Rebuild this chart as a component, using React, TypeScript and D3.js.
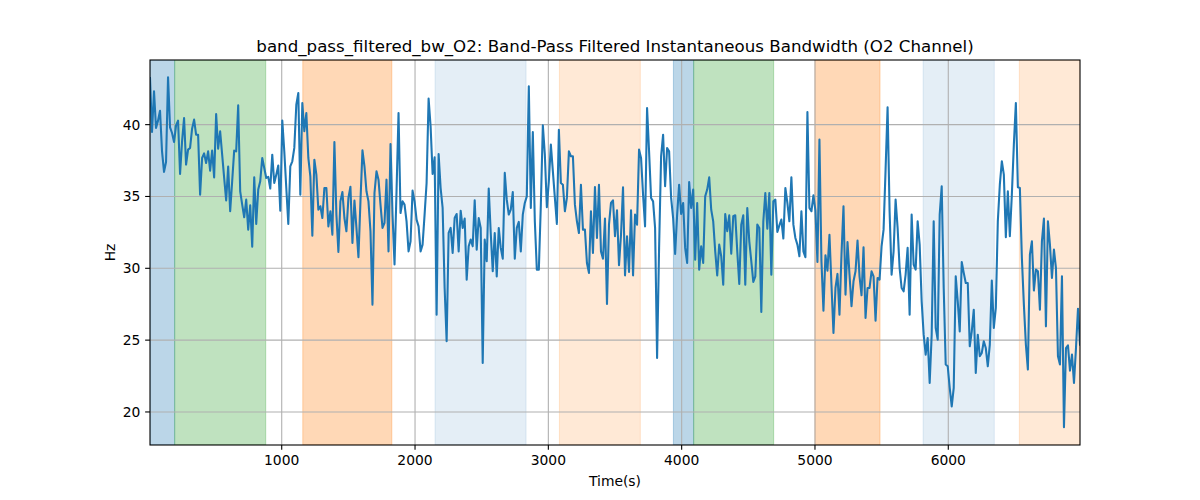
import React from "react";
import * as d3 from "d3";

const T_START = 12;
const T_END = 6988;

const bandwidth: number[] = [
  43.25, 39.49, 42.32, 39.77, 40.28, 40.97, 38.14, 36.71, 37.4, 43.29, 39.81, 39.42, 38.79, 39.95, 40.28, 36.57,
  38.84, 40.46, 37.22, 38.26, 38.38, 39.72, 40.35, 39.3, 39.3, 35.13, 37.68, 38.0, 37.33, 38.14, 36.8, 38.19,
  36.33, 40.74, 38.33, 39.54, 37.91, 36.29, 34.73, 37.08, 33.97, 36.06, 38.19, 38.14, 41.35, 35.36, 34.43, 33.55,
  34.78, 32.69, 34.39, 31.51, 36.33, 33.09, 35.48, 36.06, 37.68, 36.98, 36.29, 36.36, 35.55, 37.91, 35.94, 36.52,
  37.15, 34.01, 40.28, 38.14, 35.59, 33.09, 37.1, 37.45, 38.38, 41.39, 42.2,
  35.13, 41.51, 39.54, 40.81, 37.68, 36.4, 32.27, 37.56, 36.52, 34.08, 34.32, 33.5, 35.59, 35.59, 32.92, 33.97,
  32.34, 38.79, 33.74, 31.14, 34.66, 35.31, 33.5, 32.58, 34.9, 35.68, 31.76, 34.71, 32.81, 30.77, 34.66, 38.21,
  37.1, 35.36, 34.66, 32.58, 27.47, 35.24, 36.75, 36.17, 34.43, 32.81, 33.16, 36.17, 31.18, 38.65, 33.74, 30.26,
  35.36, 40.81, 33.85, 34.66, 34.43, 33.27, 31.18, 31.88, 35.41, 34.66, 33.39, 32.92, 31.18, 31.65, 33.74, 35.94,
  41.81, 39.88, 36.57, 37.73, 26.77, 37.96, 35.59, 34.2, 28.63, 24.92, 32.46,
  32.81, 31.07, 33.5, 33.78, 31.18, 34.01, 32.81, 33.46, 29.21, 31.53, 32.0, 31.53, 34.73, 31.3, 33.5, 32.81,
  23.41, 32.0, 30.49, 35.55, 32.46, 29.79, 32.46, 29.44, 32.81, 31.42, 30.67, 36.64, 34.78, 33.74, 34.08, 35.31,
  30.67, 32.81, 33.23, 31.18, 33.74, 34.55, 35.01, 42.67, 34.2, 39.49, 33.27, 29.91, 29.91, 34.43, 39.95, 37.91,
  34.25, 36.06, 38.61, 36.75, 34.9, 33.09, 39.65, 35.94, 35.82, 33.97, 34.9, 38.14, 37.8, 37.8, 34.43, 33.27,
  32.46, 35.82, 32.69, 32.69, 30.37, 29.68, 33.97, 31.07, 35.66, 32.11, 35.82,
  31.18, 30.67, 33.46, 27.52, 33.04, 34.55, 34.73, 32.23, 34.04, 30.21, 32.34, 35.64, 29.51, 32.23, 29.74, 34.04,
  29.51, 33.74, 33.04, 38.26, 37.68, 35.13, 32.92, 41.16, 38.14, 34.9, 34.66, 32.81, 23.76, 31.42, 37.8, 39.3,
  35.71, 38.38, 38.14, 34.9, 33.5, 31.0, 33.74, 35.82, 33.78, 34.55, 31.42, 30.37, 36.01, 34.2, 35.48, 30.6,
  34.55, 29.91, 31.53, 30.37, 35.01, 35.48, 36.33, 34.08, 33.27, 31.18, 29.51, 31.65, 30.84, 28.86, 33.78, 32.58,
  33.69, 31.02, 33.62, 33.69, 31.18, 28.91, 33.04, 33.69, 28.86, 34.2,
  31.88, 30.49, 29.05, 29.44, 33.04, 32.81, 26.96, 33.27, 35.24, 32.76, 35.24, 29.56, 34.66, 34.78, 32.53, 32.99,
  33.39, 32.07, 35.59, 34.55, 33.27, 36.33, 33.04, 32.11, 31.65, 30.84, 33.97, 31.18, 30.77, 40.88, 34.2, 33.97,
  35.08, 34.01, 30.44, 38.96, 30.49, 27.05, 30.91, 29.84, 32.34, 28.86, 25.5, 28.63, 29.61, 26.77, 30.95, 34.32,
  28.17, 31.83, 29.56, 27.36, 29.1, 29.79, 31.93, 29.44, 28.12, 31.46, 26.54, 28.63, 28.63, 29.79, 29.44, 26.36,
  29.33, 29.21, 31.53, 32.69, 36.87, 41.21, 33.97, 29.56, 31.18, 34.78, 32.81, 30.02,
  28.63, 28.4, 29.56, 31.42, 26.77, 33.74, 30.26, 29.91, 33.27, 31.65, 27.7, 25.38, 23.99, 25.15, 22.02, 25.38,
  33.27, 25.85, 25.03, 33.74, 35.71, 28.63, 23.3, 23.18, 21.67, 20.39, 21.67, 29.44, 27.7, 25.61, 30.44, 29.68,
  28.98, 28.98, 24.57, 25.61, 27.12, 22.71, 25.38, 23.88, 24.11, 24.92, 24.45, 23.18, 24.69, 29.14, 25.85, 27.24,
  33.27, 35.82, 37.45, 36.52, 32.16, 35.36, 32.23, 35.13, 38.61, 41.51, 35.64, 35.59, 30.72, 27.47, 24.69, 22.95,
  30.95, 31.88, 28.45, 29.91, 29.79, 27.12, 31.88, 33.46, 25.96, 33.27, 31.65, 29.33, 31.3, 30.02, 23.88, 23.3,
  29.44, 18.93, 24.45, 24.64, 22.88, 23.99, 22.02, 24.45, 27.19, 24.69,
];

const spanStarts: number[] = [12, 197, 1158, 2150, 3083, 3938, 4090, 5000, 5811, 6533];
const spanEnds: number[] = [197, 880, 1826, 2833, 3690, 4090, 4690, 5488, 6345, 6988];
const spanColors: string[] = ["#1f77b4", "#2ca02c", "#ff7f0e", "#1f77b4", "#ff7f0e", "#1f77b4", "#2ca02c", "#ff7f0e", "#1f77b4", "#ff7f0e"];
const spanAlphas: number[] = [0.3, 0.3, 0.3, 0.12, 0.17, 0.3, 0.3, 0.3, 0.12, 0.17];

const xTicks: number[] = [1000, 2000, 3000, 4000, 5000, 6000];
const yTicks: number[] = [20, 25, 30, 35, 40];

const TITLE = "band_pass_filtered_bw_O2: Band-Pass Filtered Instantaneous Bandwidth (O2 Channel)";

export default function App() {
  const W = 1200, H = 500;
  const L = 150, R = 1080, T = 60, B = 445;
  const n = bandwidth.length;
  const step = (T_END - T_START) / (n - 1);
  const pts = bandwidth.map((v, i) => [T_START + i * step, v] as [number, number]);
  const x = d3.scaleLinear().domain([T_START, T_END]).range([L, R]);
  const y = d3.scaleLinear().domain([17.7, 44.5]).range([B, T]);
  const line = d3.line<[number, number]>().x((d) => x(d[0])).y((d) => y(d[1]));
  const font = "DejaVu Sans, sans-serif";
  const fs = 13.89;
  return (
    <svg width={W} height={H} style={{ position: "absolute", left: 0, top: 0 }} fontFamily={font}>
      <rect x={0} y={0} width={W} height={H} fill="white" />
      <defs>
        <clipPath id="plot">
          <rect x={L} y={T} width={R - L} height={B - T} />
        </clipPath>
      </defs>
      <g clipPath="url(#plot)">
        {spanStarts.map((s, i) => (
          <rect
            key={i}
            x={x(s)}
            y={T}
            width={x(spanEnds[i]) - x(s)}
            height={B - T}
            fill={spanColors[i]}
            fillOpacity={spanAlphas[i]}
            stroke={spanColors[i]}
            strokeOpacity={spanAlphas[i]}
            strokeWidth={1}
          />
        ))}
        {xTicks.map((t) => (
          <line key={"gx" + t} x1={x(t)} x2={x(t)} y1={T} y2={B} stroke="#b0b0b0" strokeWidth={1.1} />
        ))}
        {yTicks.map((t) => (
          <line key={"gy" + t} x1={L} x2={R} y1={y(t)} y2={y(t)} stroke="#b0b0b0" strokeWidth={1.1} />
        ))}
        <path d={line(pts) || ""} fill="none" stroke="#1f77b4" strokeWidth={2.08} strokeLinejoin="round" strokeLinecap="square" />
      </g>
      <rect x={L} y={T} width={R - L} height={B - T} fill="none" stroke="black" strokeWidth={1.1} />
      {xTicks.map((t) => (
        <g key={"tx" + t}>
          <line x1={x(t)} x2={x(t)} y1={B} y2={B + 4.86} stroke="black" strokeWidth={1.1} />
          <text x={x(t)} y={B + 19.5} fontSize={fs} textAnchor="middle" fill="black">{t}</text>
        </g>
      ))}
      {yTicks.map((t) => (
        <g key={"ty" + t}>
          <line x1={L - 4.86} x2={L} y1={y(t)} y2={y(t)} stroke="black" strokeWidth={1.1} />
          <text x={L - 9.7} y={y(t) + 5} fontSize={fs} textAnchor="end" fill="black">{t}</text>
        </g>
      ))}
      <text x={(L + R) / 2} y={486} fontSize={fs} textAnchor="middle" fill="black">Time(s)</text>
      <text transform={`translate(115, ${(T + B) / 2}) rotate(-90)`} fontSize={fs} textAnchor="middle" fill="black">Hz</text>
      <text x={(L + R) / 2} y={52} fontSize={16.67} textAnchor="middle" fill="black">{TITLE}</text>
    </svg>
  );
}
